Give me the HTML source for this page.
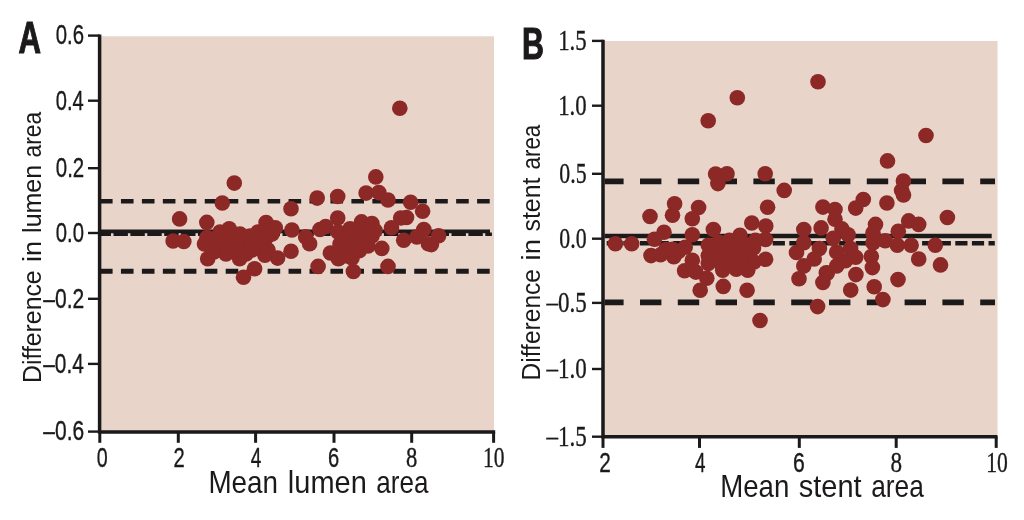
<!DOCTYPE html>
<html lang="en">
<head>
<meta charset="utf-8">
<title>Bland-Altman plots: lumen area and stent area</title>
<style>
html,body{margin:0;padding:0;background:#fff;}
body{width:1024px;height:520px;overflow:hidden;font-family:"Liberation Sans",Arial,sans-serif;}
svg{display:block;}
text{fill:#1c191a;}
.axis{stroke:#1c191a;stroke-width:3.5;fill:none;stroke-linecap:butt;}
.tick{stroke:#1c191a;stroke-width:3;fill:none;}
.ytick{stroke:#1c191a;stroke-width:2.4;fill:none;}
.dots circle{fill:#8c2826;}
</style>
</head>
<body>
<svg width="1024" height="520" viewBox="0 0 1024 520">
<rect x="0" y="0" width="1024" height="520" fill="#ffffff"/>

<g id="panelA">
<rect x="99.6" y="36.3" width="394.4" height="395.8" fill="#e8d4c9"/>
<g stroke="#1c191a" fill="none">
<line x1="100" y1="201.3" x2="491" y2="201.3" stroke-width="4.6" stroke-dasharray="12.6 8.35"/>
<line x1="100" y1="271.2" x2="491" y2="271.2" stroke-width="5" stroke-dasharray="12.6 8.35"/>
<line x1="100" y1="234.2" x2="491.9" y2="234.2" stroke-width="3.5" stroke-dasharray="14.4 2.5" stroke-dashoffset="3.4"/>
<line x1="100" y1="231.3" x2="490" y2="231.3" stroke-width="3.8"/>
</g>
<g class="dots">
<circle cx="234.3" cy="183.1" r="7.8"/>
<circle cx="222.3" cy="203.0" r="7.8"/>
<circle cx="179.6" cy="218.9" r="7.8"/>
<circle cx="173.1" cy="241.0" r="7.8"/>
<circle cx="183.8" cy="241.5" r="7.8"/>
<circle cx="206.8" cy="222.4" r="7.8"/>
<circle cx="291.0" cy="208.7" r="7.8"/>
<circle cx="291.9" cy="230.0" r="7.8"/>
<circle cx="291.0" cy="251.2" r="7.8"/>
<circle cx="277.6" cy="258.1" r="7.8"/>
<circle cx="254.6" cy="268.7" r="7.8"/>
<circle cx="243.5" cy="277.2" r="7.8"/>
<circle cx="207.7" cy="258.8" r="7.8"/>
<circle cx="239.6" cy="258.8" r="7.8"/>
<circle cx="264.9" cy="255.3" r="7.8"/>
<circle cx="266.1" cy="222.6" r="7.8"/>
<circle cx="229.2" cy="228.8" r="7.8"/>
<circle cx="275.3" cy="227.7" r="7.8"/>
<circle cx="207.0" cy="237.5" r="7.8"/>
<circle cx="204.5" cy="244.0" r="7.8"/>
<circle cx="214.0" cy="240.0" r="7.8"/>
<circle cx="220.0" cy="232.0" r="7.8"/>
<circle cx="222.0" cy="246.0" r="7.8"/>
<circle cx="230.0" cy="238.0" r="7.8"/>
<circle cx="234.0" cy="250.0" r="7.8"/>
<circle cx="240.0" cy="234.0" r="7.8"/>
<circle cx="244.0" cy="244.0" r="7.8"/>
<circle cx="250.0" cy="236.0" r="7.8"/>
<circle cx="252.0" cy="250.0" r="7.8"/>
<circle cx="258.0" cy="232.0" r="7.8"/>
<circle cx="260.0" cy="244.0" r="7.8"/>
<circle cx="266.0" cy="238.0" r="7.8"/>
<circle cx="268.0" cy="250.0" r="7.8"/>
<circle cx="272.0" cy="234.0" r="7.8"/>
<circle cx="214.0" cy="252.0" r="7.8"/>
<circle cx="226.0" cy="254.0" r="7.8"/>
<circle cx="246.0" cy="254.0" r="7.8"/>
<circle cx="236.4" cy="242.0" r="7.8"/>
<circle cx="212.0" cy="250.0" r="7.8"/>
<circle cx="375.8" cy="176.9" r="7.8"/>
<circle cx="366.1" cy="193.1" r="7.8"/>
<circle cx="378.8" cy="192.6" r="7.8"/>
<circle cx="388.0" cy="200.0" r="7.8"/>
<circle cx="317.2" cy="198.1" r="7.8"/>
<circle cx="337.7" cy="196.5" r="7.8"/>
<circle cx="410.6" cy="202.3" r="7.8"/>
<circle cx="422.6" cy="211.2" r="7.8"/>
<circle cx="337.7" cy="218.0" r="7.8"/>
<circle cx="400.7" cy="218.0" r="7.8"/>
<circle cx="406.5" cy="217.5" r="7.8"/>
<circle cx="320.0" cy="229.5" r="7.8"/>
<circle cx="325.7" cy="226.5" r="7.8"/>
<circle cx="305.7" cy="236.9" r="7.8"/>
<circle cx="309.6" cy="243.8" r="7.8"/>
<circle cx="391.5" cy="227.7" r="7.8"/>
<circle cx="423.8" cy="229.5" r="7.8"/>
<circle cx="416.8" cy="236.9" r="7.8"/>
<circle cx="403.7" cy="240.3" r="7.8"/>
<circle cx="428.4" cy="243.8" r="7.8"/>
<circle cx="381.8" cy="248.4" r="7.8"/>
<circle cx="388.0" cy="266.4" r="7.8"/>
<circle cx="318.1" cy="266.4" r="7.8"/>
<circle cx="353.4" cy="271.5" r="7.8"/>
<circle cx="330.4" cy="253.0" r="7.8"/>
<circle cx="338.4" cy="258.8" r="7.8"/>
<circle cx="361.5" cy="221.9" r="7.8"/>
<circle cx="371.9" cy="223.5" r="7.8"/>
<circle cx="350.0" cy="228.8" r="7.8"/>
<circle cx="359.2" cy="250.7" r="7.8"/>
<circle cx="338.0" cy="232.0" r="7.8"/>
<circle cx="340.0" cy="244.0" r="7.8"/>
<circle cx="346.0" cy="238.0" r="7.8"/>
<circle cx="348.0" cy="250.0" r="7.8"/>
<circle cx="354.0" cy="234.0" r="7.8"/>
<circle cx="356.0" cy="244.0" r="7.8"/>
<circle cx="362.0" cy="238.0" r="7.8"/>
<circle cx="364.0" cy="230.0" r="7.8"/>
<circle cx="368.0" cy="246.0" r="7.8"/>
<circle cx="372.0" cy="236.0" r="7.8"/>
<circle cx="375.0" cy="230.5" r="7.8"/>
<circle cx="344.0" cy="256.0" r="7.8"/>
<circle cx="352.0" cy="258.0" r="7.8"/>
<circle cx="438.6" cy="235.8" r="7.8"/>
<circle cx="431.4" cy="244.6" r="7.8"/>
<circle cx="399.8" cy="108.3" r="7.8"/>
</g>
<path class="axis" d="M99.6 34.4 V432.1 H495.2"/>
<line class="ytick" x1="88" y1="35.6" x2="99.6" y2="35.6"/>
<line class="ytick" x1="88" y1="100.7" x2="99.6" y2="100.7"/>
<line class="ytick" x1="88" y1="168.2" x2="99.6" y2="168.2"/>
<line class="ytick" x1="88" y1="233.0" x2="99.6" y2="233.0"/>
<line class="ytick" x1="88" y1="298.8" x2="99.6" y2="298.8"/>
<line class="ytick" x1="88" y1="363.9" x2="99.6" y2="363.9"/>
<line class="ytick" x1="88" y1="431.6" x2="99.6" y2="431.6"/>
<line class="tick" x1="99.8" y1="432.1" x2="99.8" y2="442.8"/>
<line class="tick" x1="178.3" y1="432.1" x2="178.3" y2="442.8"/>
<line class="tick" x1="255.6" y1="432.1" x2="255.6" y2="442.8"/>
<line class="tick" x1="334.0" y1="432.1" x2="334.0" y2="442.8"/>
<line class="tick" x1="411.7" y1="432.1" x2="411.7" y2="442.8"/>
<line class="tick" x1="493.6" y1="432.1" x2="493.6" y2="442.8"/>
<text x="55.81" y="44.40" textLength="28.29" lengthAdjust="spacingAndGlyphs" font-family="&quot;Liberation Sans&quot;, Arial, sans-serif" font-size="27.4" stroke="#1c191a" stroke-width="0.35">0.6</text>
<text x="55.81" y="109.50" textLength="27.98" lengthAdjust="spacingAndGlyphs" font-family="&quot;Liberation Sans&quot;, Arial, sans-serif" font-size="27.4" stroke="#1c191a" stroke-width="0.35">0.4</text>
<text x="55.80" y="177.00" textLength="28.43" lengthAdjust="spacingAndGlyphs" font-family="&quot;Liberation Sans&quot;, Arial, sans-serif" font-size="27.4" stroke="#1c191a" stroke-width="0.35">0.2</text>
<text x="55.81" y="241.80" textLength="28.18" lengthAdjust="spacingAndGlyphs" font-family="&quot;Liberation Sans&quot;, Arial, sans-serif" font-size="27.4" stroke="#1c191a" stroke-width="0.35">0.0</text>
<text x="43.30" y="307.60" textLength="40.96" lengthAdjust="spacingAndGlyphs" font-family="&quot;Liberation Sans&quot;, Arial, sans-serif" font-size="27.4" stroke="#1c191a" stroke-width="0.35">–0.2</text>
<text x="43.30" y="372.70" textLength="40.51" lengthAdjust="spacingAndGlyphs" font-family="&quot;Liberation Sans&quot;, Arial, sans-serif" font-size="27.4" stroke="#1c191a" stroke-width="0.35">–0.4</text>
<text x="43.30" y="440.40" textLength="40.82" lengthAdjust="spacingAndGlyphs" font-family="&quot;Liberation Sans&quot;, Arial, sans-serif" font-size="27.4" stroke="#1c191a" stroke-width="0.35">–0.6</text>
<text x="96.73" y="466.50" textLength="10.94" lengthAdjust="spacingAndGlyphs" font-family="&quot;Liberation Sans&quot;, Arial, sans-serif" font-size="27.2" stroke="#1c191a" stroke-width="0.35">0</text>
<text x="173.58" y="466.50" textLength="11.23" lengthAdjust="spacingAndGlyphs" font-family="&quot;Liberation Sans&quot;, Arial, sans-serif" font-size="27.2" stroke="#1c191a" stroke-width="0.35">2</text>
<text x="250.76" y="466.50" textLength="10.60" lengthAdjust="spacingAndGlyphs" font-family="&quot;Liberation Sans&quot;, Arial, sans-serif" font-size="27.2" stroke="#1c191a" stroke-width="0.35">4</text>
<text x="327.88" y="466.50" textLength="11.21" lengthAdjust="spacingAndGlyphs" font-family="&quot;Liberation Sans&quot;, Arial, sans-serif" font-size="27.2" stroke="#1c191a" stroke-width="0.35">6</text>
<text x="406.04" y="466.50" textLength="11.33" lengthAdjust="spacingAndGlyphs" font-family="&quot;Liberation Serif&quot;, &quot;Times New Roman&quot;, serif" font-size="28.4" stroke="#1c191a" stroke-width="0.35">8</text>
<text x="482.91" y="466.50" textLength="21.51" lengthAdjust="spacingAndGlyphs" font-family="&quot;Liberation Serif&quot;, &quot;Times New Roman&quot;, serif" font-size="28.4" stroke="#1c191a" stroke-width="0.35">10</text>
<text x="208.42" y="492.50" textLength="69.59" lengthAdjust="spacingAndGlyphs" font-family="&quot;Liberation Sans&quot;, Arial, sans-serif" font-size="30.5">Mean</text>
<text x="287.85" y="492.50" textLength="78.93" lengthAdjust="spacingAndGlyphs" font-family="&quot;Liberation Sans&quot;, Arial, sans-serif" font-size="30.5">lumen</text>
<text x="376.29" y="492.50" textLength="52.11" lengthAdjust="spacingAndGlyphs" font-family="&quot;Liberation Sans&quot;, Arial, sans-serif" font-size="30.5">area</text>
<g transform="translate(40.7 0) rotate(-90)">
<text x="-382.93" y="0" textLength="112.52" lengthAdjust="spacingAndGlyphs" font-family="&quot;Liberation Sans&quot;, Arial, sans-serif" font-size="26.2">Difference</text>
<text x="-261.91" y="0" textLength="21.07" lengthAdjust="spacingAndGlyphs" font-family="&quot;Liberation Sans&quot;, Arial, sans-serif" font-size="26.2">in</text>
<text x="-232.88" y="0" textLength="67.90" lengthAdjust="spacingAndGlyphs" font-family="&quot;Liberation Sans&quot;, Arial, sans-serif" font-size="26.2">lumen</text>
<text x="-157.47" y="0" textLength="45.67" lengthAdjust="spacingAndGlyphs" font-family="&quot;Liberation Sans&quot;, Arial, sans-serif" font-size="26.2">area</text>
</g>
<text x="18.52" y="53.10" textLength="22.50" lengthAdjust="spacingAndGlyphs" font-family="&quot;Liberation Sans&quot;, Arial, sans-serif" font-size="43.6" font-weight="bold" stroke="#1c191a" stroke-width="1.1">A</text>
</g>
<g id="panelB">
<rect x="603" y="41.0" width="394.5" height="395.7" fill="#e8d4c9"/>
<g stroke="#1c191a" fill="none">
<line x1="604.5" y1="181.4" x2="995" y2="181.4" stroke-width="5.6" stroke-dasharray="21.4 16.4" stroke-dashoffset="2.3"/>
<line x1="604.5" y1="302.4" x2="995" y2="302.4" stroke-width="5.6" stroke-dasharray="21.4 16.4" stroke-dashoffset="2.3"/>
<line x1="604.5" y1="243.3" x2="994.8" y2="243.3" stroke-width="4.6" stroke-dasharray="12.2 4.4" stroke-dashoffset="-2.2"/>
<line x1="604.5" y1="236" x2="991.7" y2="236" stroke-width="4.5"/>
</g>
<g class="dots">
<circle cx="737.3" cy="97.7" r="7.8"/>
<circle cx="708.2" cy="120.8" r="7.8"/>
<circle cx="818.0" cy="81.8" r="7.8"/>
<circle cx="926.0" cy="135.5" r="7.8"/>
<circle cx="887.5" cy="160.9" r="7.8"/>
<circle cx="715.6" cy="174.0" r="7.8"/>
<circle cx="727.0" cy="173.8" r="7.8"/>
<circle cx="717.9" cy="183.6" r="7.8"/>
<circle cx="765.2" cy="173.7" r="7.8"/>
<circle cx="784.2" cy="190.4" r="7.8"/>
<circle cx="674.6" cy="203.8" r="7.8"/>
<circle cx="615.4" cy="243.7" r="7.8"/>
<circle cx="631.7" cy="243.7" r="7.8"/>
<circle cx="650.0" cy="216.5" r="7.8"/>
<circle cx="672.5" cy="215.2" r="7.8"/>
<circle cx="698.6" cy="207.5" r="7.8"/>
<circle cx="692.3" cy="218.7" r="7.8"/>
<circle cx="664.0" cy="232.3" r="7.8"/>
<circle cx="654.5" cy="239.2" r="7.8"/>
<circle cx="692.3" cy="234.7" r="7.8"/>
<circle cx="713.4" cy="229.5" r="7.8"/>
<circle cx="651.0" cy="255.6" r="7.8"/>
<circle cx="666.0" cy="249.6" r="7.8"/>
<circle cx="673.8" cy="256.8" r="7.8"/>
<circle cx="685.2" cy="247.3" r="7.8"/>
<circle cx="660.5" cy="254.8" r="7.8"/>
<circle cx="672.3" cy="249.2" r="7.8"/>
<circle cx="678.5" cy="251.5" r="7.8"/>
<circle cx="692.3" cy="260.3" r="7.8"/>
<circle cx="684.6" cy="270.8" r="7.8"/>
<circle cx="695.8" cy="272.1" r="7.8"/>
<circle cx="706.8" cy="278.2" r="7.8"/>
<circle cx="700.2" cy="290.2" r="7.8"/>
<circle cx="723.3" cy="286.4" r="7.8"/>
<circle cx="747.1" cy="290.2" r="7.8"/>
<circle cx="767.6" cy="207.2" r="7.8"/>
<circle cx="751.8" cy="223.0" r="7.8"/>
<circle cx="765.8" cy="226.1" r="7.8"/>
<circle cx="740.0" cy="235.2" r="7.8"/>
<circle cx="765.6" cy="239.4" r="7.8"/>
<circle cx="765.6" cy="259.3" r="7.8"/>
<circle cx="760.0" cy="320.5" r="7.8"/>
<circle cx="747.7" cy="270.2" r="7.8"/>
<circle cx="736.2" cy="269.2" r="7.8"/>
<circle cx="722.7" cy="270.2" r="7.8"/>
<circle cx="708.3" cy="245.2" r="7.8"/>
<circle cx="708.3" cy="255.8" r="7.8"/>
<circle cx="708.3" cy="263.5" r="7.8"/>
<circle cx="718.8" cy="242.3" r="7.8"/>
<circle cx="720.8" cy="253.8" r="7.8"/>
<circle cx="720.8" cy="263.5" r="7.8"/>
<circle cx="729.4" cy="240.4" r="7.8"/>
<circle cx="730.4" cy="250.0" r="7.8"/>
<circle cx="732.3" cy="259.6" r="7.8"/>
<circle cx="743.8" cy="244.2" r="7.8"/>
<circle cx="747.7" cy="253.8" r="7.8"/>
<circle cx="753.5" cy="248.0" r="7.8"/>
<circle cx="755.4" cy="240.4" r="7.8"/>
<circle cx="742.0" cy="262.0" r="7.8"/>
<circle cx="754.0" cy="262.0" r="7.8"/>
<circle cx="737.0" cy="252.0" r="7.8"/>
<circle cx="714.0" cy="250.0" r="7.8"/>
<circle cx="726.0" cy="258.0" r="7.8"/>
<circle cx="737.5" cy="246.0" r="7.8"/>
<circle cx="796.5" cy="252.5" r="7.8"/>
<circle cx="799.0" cy="278.8" r="7.8"/>
<circle cx="903.4" cy="181.0" r="7.8"/>
<circle cx="901.6" cy="190.5" r="7.8"/>
<circle cx="903.5" cy="195.0" r="7.8"/>
<circle cx="886.9" cy="203.0" r="7.8"/>
<circle cx="863.3" cy="199.5" r="7.8"/>
<circle cx="855.7" cy="208.1" r="7.8"/>
<circle cx="822.9" cy="207.1" r="7.8"/>
<circle cx="835.0" cy="209.5" r="7.8"/>
<circle cx="835.0" cy="219.2" r="7.8"/>
<circle cx="947.4" cy="217.5" r="7.8"/>
<circle cx="908.7" cy="220.9" r="7.8"/>
<circle cx="918.7" cy="224.4" r="7.8"/>
<circle cx="875.5" cy="224.4" r="7.8"/>
<circle cx="821.1" cy="227.9" r="7.8"/>
<circle cx="803.8" cy="229.6" r="7.8"/>
<circle cx="841.9" cy="228.9" r="7.8"/>
<circle cx="848.1" cy="234.8" r="7.8"/>
<circle cx="873.0" cy="233.0" r="7.8"/>
<circle cx="898.3" cy="231.3" r="7.8"/>
<circle cx="803.8" cy="242.7" r="7.8"/>
<circle cx="833.3" cy="238.2" r="7.8"/>
<circle cx="873.0" cy="242.7" r="7.8"/>
<circle cx="885.2" cy="240.7" r="7.8"/>
<circle cx="897.3" cy="245.2" r="7.8"/>
<circle cx="911.1" cy="245.2" r="7.8"/>
<circle cx="935.3" cy="245.2" r="7.8"/>
<circle cx="819.4" cy="248.6" r="7.8"/>
<circle cx="836.7" cy="252.1" r="7.8"/>
<circle cx="850.6" cy="248.6" r="7.8"/>
<circle cx="855.7" cy="257.3" r="7.8"/>
<circle cx="871.3" cy="256.6" r="7.8"/>
<circle cx="918.7" cy="259.0" r="7.8"/>
<circle cx="940.5" cy="264.9" r="7.8"/>
<circle cx="814.2" cy="259.0" r="7.8"/>
<circle cx="803.8" cy="265.9" r="7.8"/>
<circle cx="836.7" cy="265.9" r="7.8"/>
<circle cx="845.4" cy="260.7" r="7.8"/>
<circle cx="872.4" cy="267.6" r="7.8"/>
<circle cx="826.3" cy="272.8" r="7.8"/>
<circle cx="855.9" cy="274.6" r="7.8"/>
<circle cx="822.9" cy="282.4" r="7.8"/>
<circle cx="898.0" cy="279.6" r="7.8"/>
<circle cx="874.2" cy="286.8" r="7.8"/>
<circle cx="850.7" cy="290.1" r="7.8"/>
<circle cx="882.9" cy="299.6" r="7.8"/>
<circle cx="817.6" cy="306.6" r="7.8"/>
<circle cx="827.2" cy="273.3" r="7.8"/>
</g>
<path class="axis" d="M603 39.7 V436.7 H997.5"/>
<line class="ytick" x1="592" y1="40.9" x2="603" y2="40.9"/>
<line class="ytick" x1="592" y1="105.7" x2="603" y2="105.7"/>
<line class="ytick" x1="592" y1="173.8" x2="603" y2="173.8"/>
<line class="ytick" x1="592" y1="238.7" x2="603" y2="238.7"/>
<line class="ytick" x1="592" y1="302.9" x2="603" y2="302.9"/>
<line class="ytick" x1="592" y1="369" x2="603" y2="369"/>
<line class="ytick" x1="592" y1="436.7" x2="603" y2="436.7"/>
<line class="tick" x1="603" y1="436.7" x2="603" y2="447.9"/>
<line class="tick" x1="699.5" y1="436.7" x2="699.5" y2="447.9"/>
<line class="tick" x1="799.3" y1="436.7" x2="799.3" y2="447.9"/>
<line class="tick" x1="896.2" y1="436.7" x2="896.2" y2="447.9"/>
<line class="tick" x1="996.2" y1="436.7" x2="996.2" y2="447.9"/>
<text x="558.20" y="49.80" textLength="28.49" lengthAdjust="spacingAndGlyphs" font-family="&quot;Liberation Serif&quot;, &quot;Times New Roman&quot;, serif" font-size="28.6" stroke="#1c191a" stroke-width="0.35">1.5</text>
<text x="558.20" y="114.60" textLength="28.47" lengthAdjust="spacingAndGlyphs" font-family="&quot;Liberation Serif&quot;, &quot;Times New Roman&quot;, serif" font-size="28.6" stroke="#1c191a" stroke-width="0.35">1.0</text>
<text x="559.37" y="182.70" textLength="27.28" lengthAdjust="spacingAndGlyphs" font-family="&quot;Liberation Serif&quot;, &quot;Times New Roman&quot;, serif" font-size="28.6" stroke="#1c191a" stroke-width="0.35">0.5</text>
<text x="559.37" y="247.60" textLength="27.26" lengthAdjust="spacingAndGlyphs" font-family="&quot;Liberation Serif&quot;, &quot;Times New Roman&quot;, serif" font-size="28.6" stroke="#1c191a" stroke-width="0.35">0.0</text>
<text x="546.46" y="311.80" textLength="40.24" lengthAdjust="spacingAndGlyphs" font-family="&quot;Liberation Serif&quot;, &quot;Times New Roman&quot;, serif" font-size="28.6" stroke="#1c191a" stroke-width="0.35">–0.5</text>
<text x="546.46" y="377.90" textLength="40.22" lengthAdjust="spacingAndGlyphs" font-family="&quot;Liberation Serif&quot;, &quot;Times New Roman&quot;, serif" font-size="28.6" stroke="#1c191a" stroke-width="0.35">–1.0</text>
<text x="546.46" y="445.60" textLength="40.24" lengthAdjust="spacingAndGlyphs" font-family="&quot;Liberation Serif&quot;, &quot;Times New Roman&quot;, serif" font-size="28.6" stroke="#1c191a" stroke-width="0.35">–1.5</text>
<text x="599.25" y="472.00" textLength="11.60" lengthAdjust="spacingAndGlyphs" font-family="&quot;Liberation Sans&quot;, Arial, sans-serif" font-size="27.6" stroke="#1c191a" stroke-width="0.35">2</text>
<text x="695.07" y="472.00" textLength="10.48" lengthAdjust="spacingAndGlyphs" font-family="&quot;Liberation Sans&quot;, Arial, sans-serif" font-size="27.6" stroke="#1c191a" stroke-width="0.35">4</text>
<text x="793.02" y="472.00" textLength="11.81" lengthAdjust="spacingAndGlyphs" font-family="&quot;Liberation Sans&quot;, Arial, sans-serif" font-size="27.6" stroke="#1c191a" stroke-width="0.35">6</text>
<text x="890.42" y="472.00" textLength="11.56" lengthAdjust="spacingAndGlyphs" font-family="&quot;Liberation Serif&quot;, &quot;Times New Roman&quot;, serif" font-size="28.6" stroke="#1c191a" stroke-width="0.35">8</text>
<text x="986.30" y="472.00" textLength="21.62" lengthAdjust="spacingAndGlyphs" font-family="&quot;Liberation Serif&quot;, &quot;Times New Roman&quot;, serif" font-size="28.6" stroke="#1c191a" stroke-width="0.35">10</text>
<text x="720.13" y="497.00" textLength="69.16" lengthAdjust="spacingAndGlyphs" font-family="&quot;Liberation Sans&quot;, Arial, sans-serif" font-size="30.5">Mean</text>
<text x="798.79" y="497.00" textLength="62.82" lengthAdjust="spacingAndGlyphs" font-family="&quot;Liberation Sans&quot;, Arial, sans-serif" font-size="30.5">stent</text>
<text x="871.18" y="497.00" textLength="52.62" lengthAdjust="spacingAndGlyphs" font-family="&quot;Liberation Sans&quot;, Arial, sans-serif" font-size="30.5">area</text>
<g transform="translate(539.7 0) rotate(-90)">
<text x="-380.51" y="0" textLength="111.49" lengthAdjust="spacingAndGlyphs" font-family="&quot;Liberation Sans&quot;, Arial, sans-serif" font-size="26.2">Difference</text>
<text x="-260.43" y="0" textLength="21.31" lengthAdjust="spacingAndGlyphs" font-family="&quot;Liberation Sans&quot;, Arial, sans-serif" font-size="26.2">in</text>
<text x="-231.49" y="0" textLength="53.87" lengthAdjust="spacingAndGlyphs" font-family="&quot;Liberation Sans&quot;, Arial, sans-serif" font-size="26.2">stent</text>
<text x="-169.45" y="0" textLength="44.65" lengthAdjust="spacingAndGlyphs" font-family="&quot;Liberation Sans&quot;, Arial, sans-serif" font-size="26.2">area</text>
</g>
<text x="521.97" y="58.90" textLength="21.91" lengthAdjust="spacingAndGlyphs" font-family="&quot;Liberation Sans&quot;, Arial, sans-serif" font-size="43.6" font-weight="bold" stroke="#1c191a" stroke-width="1.1">B</text>
</g>
</svg>
</body>
</html>
